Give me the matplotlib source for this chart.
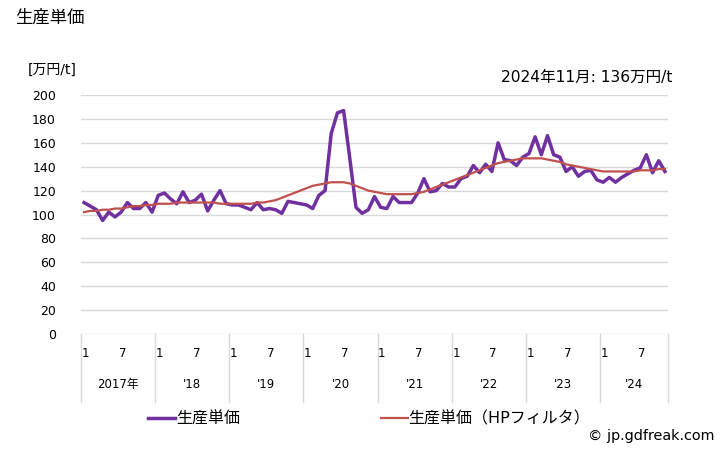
import matplotlib
matplotlib.use("Agg")
import matplotlib.pyplot as plt
import matplotlib.transforms as mtransforms
import numpy as np

plt.rcParams['font.family'] = ['DejaVu Sans', 'Noto Sans CJK JP']

# monthly unit price, Jan 2017 .. Nov 2024 (万円/t)
price_2017 = [110, 107, 104, 95, 102, 98, 102, 110, 105, 105, 110, 102]
price_2018 = [116, 118, 113, 109, 119, 110, 112, 117, 103, 112, 120, 109]
price_2019 = [108, 108, 106, 104, 110, 104, 105, 104, 101, 111, 110, 109]
price_2020 = [108, 105, 116, 120, 168, 185, 187, 147, 106, 101, 104, 115]
price_2021 = [106, 105, 115, 110, 110, 110, 118, 130, 119, 120, 126, 123]
price_2022 = [123, 130, 132, 141, 135, 142, 136, 160, 146, 145, 141, 148]
price_2023 = [151, 165, 150, 166, 150, 148, 136, 140, 132, 136, 137, 129]
price_2024 = [127, 131, 127, 131, 134, 137, 139, 150, 135, 145, 136]

# HP filter trend
hp_2017 = [102, 103, 103, 104, 104, 105, 105, 106, 107, 107, 108, 108]
hp_2018 = [109, 109, 109, 110, 110, 110, 110, 110, 110, 110, 109, 109]
hp_2019 = [109, 109, 109, 109, 110, 110, 111, 112, 114, 116, 118, 120]
hp_2020 = [122, 124, 125, 126, 127, 127, 127, 126, 124, 122, 120, 119]
hp_2021 = [118, 117, 117, 117, 117, 117, 118, 119, 121, 123, 125, 127]
hp_2022 = [129, 131, 133, 135, 137, 139, 141, 143, 144, 145, 146, 147]
hp_2023 = [147, 147, 147, 146, 145, 144, 142, 141, 140, 139, 138, 137]
hp_2024 = [136, 136, 136, 136, 136, 136, 137, 137, 137, 138, 138]

year_labels = ["2017年", "'18", "'19", "'20", "'21", "'22", "'23", "'24"]
month_labels = ["1", "7"]

price = np.array(price_2017 + price_2018 + price_2019 + price_2020
                 + price_2021 + price_2022 + price_2023 + price_2024)
hp = np.array(hp_2017 + hp_2018 + hp_2019 + hp_2020
              + hp_2021 + hp_2022 + hp_2023 + hp_2024)
months = np.arange(len(price))

fig = plt.figure(figsize=(7.28, 4.5), dpi=100)
ax = fig.add_axes([81 / 728, 1 - 334 / 450, 587 / 728, 239 / 450])

purple = "#7030A0"
red = "#C0504D"
grid_c = "#D9D9D9"

l1, = ax.plot(months, price, color=purple, lw=2.5, zorder=3)
l2, = ax.plot(months, hp, color=red, lw=1.6, zorder=4)

ax.set_xlim(-0.5, len(price) - 0.5)
ax.set_ylim(0, 200)
ax.set_yticks(np.arange(0, 201, 20))
ax.grid(axis="y", color=grid_c, lw=1)
ax.set_axisbelow(True)
for s in ax.spines.values():
    s.set_visible(False)
ax.set_xticks([])
ax.tick_params(axis="y", length=0, pad=18, labelsize=9)

# x axis table: month labels, year labels, separators
trans = mtransforms.blended_transform_factory(ax.transData, ax.transAxes)
for k, yl in enumerate(year_labels):
    start = 12 * k
    for m, ml in zip([0, 6], month_labels):
        ax.text(start + m + 0.2, -0.08, ml, transform=trans, ha="center",
                va="center", fontsize=8.5)
    end = min(start + 12, len(price)) - 0.5
    ax.text((start - 0.5 + end) / 2, -0.21, yl, transform=trans, ha="center",
            va="center", fontsize=8.5)
    ax.plot([start - 0.5, start - 0.5], [0, -0.285], transform=trans,
            color=grid_c, lw=1, clip_on=False)
ax.plot([len(price) - 0.5] * 2, [0, -0.285], transform=trans,
        color=grid_c, lw=1, clip_on=False)

fig.text(15 / 728, 1 - 18 / 450, "生産単価", fontsize=12.5, va="center", ha="left")
fig.text(28 / 728, 1 - 70 / 450, "[万円/t]", fontsize=10, va="center", ha="left")
fig.text(672 / 728, 1 - 77 / 450, "2024年11月: 136万円/t", fontsize=11.2,
         va="center", ha="right")

fig.legend([l1, l2], ["生産単価", "生産単価（HPフィルタ）"], loc="center left",
           bbox_to_anchor=(148 / 728, 1 - 419 / 450), ncol=2, frameon=False,
           fontsize=11.5, handlelength=1.7, handletextpad=0.05, columnspacing=8.8,
           borderpad=0, borderaxespad=0)
fig.text(714 / 728, 1 - 436 / 450, "© jp.gdfreak.com", fontsize=10.4,
         va="center", ha="right")

fig.savefig("out.png", dpi=100)
